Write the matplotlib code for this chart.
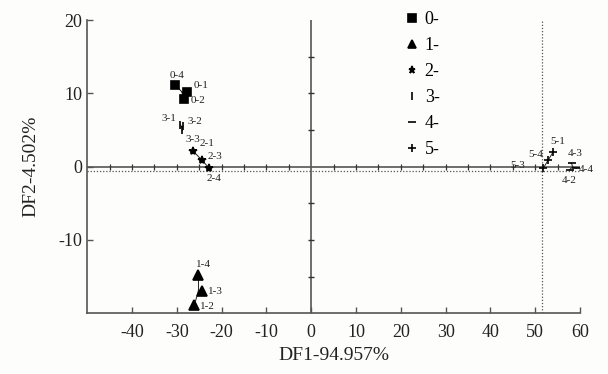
import matplotlib
matplotlib.use("Agg")
import matplotlib.pyplot as plt
import numpy as np

plt.rcParams['font.family'] = ['Liberation Serif', 'DejaVu Serif']

groups = ['0', '1', '2', '3', '4', '5']
markers = ['s', '^', '*', '|', '_', '+']
msizes = [6, 7, 6, 6, 6, 6]

# (label suffix, DF1, DF2) per group
g0_labels = ['0-4', '0-1', '0-2']
g0_x = [-30.4, -27.8, -28.5]
g0_y = [11.2, 10.2, 9.2]

g1_labels = ['1-4', '1-3', '1-2']
g1_x = [-25.2, -24.3, -26.1]
g1_y = [-14.8, -17.0, -18.9]

g2_labels = ['2-1', '2-3', '2-4']
g2_x = [-26.5, -24.3, -22.8]
g2_y = [2.2, 0.9, -0.2]

g3_labels = ['3-1', '3-2', '3-3']
g3_x = [-29.2, -28.6, -28.9]
g3_y = [5.7, 5.5, 5.0]

g4_labels = ['4-3', '4-4', '4-2']
g4_x = [58.1, 59.2, 57.7]
g4_y = [0.5, -0.2, -0.4]

g5_labels = ['5-1', '5-4', '5-3']
g5_x = [54.0, 52.9, 51.8]
g5_y = [2.0, 0.9, -0.2]

xticks = [-40, -30, -20, -10, 0, 10, 20, 30, 40, 50, 60]
yticks = [-10, 0, 10, 20]
ref_x = 51.4
ref_y = -0.55

all_x = [g0_x, g1_x, g2_x, g3_x, g4_x, g5_x]
all_y = [g0_y, g1_y, g2_y, g3_y, g4_y, g5_y]
all_l = [g0_labels, g1_labels, g2_labels, g3_labels, g4_labels, g5_labels]

# label offsets in points
offsets = {
    '0-4': (-4, 5), '0-1': (5, 3), '0-2': (5, -3),
    '3-1': (-14, 3), '3-2': (3, 2), '3-3': (3, -9),
    '2-1': (5, 3), '2-3': (4, 1), '2-4': (-2, -9),
    '1-4': (-2, 6), '1-3': (4, -2), '1-2': (4, -3),
    '5-1': (-2, 6), '5-4': (-14, 2), '5-3': (-24, 0),
    '4-3': (-3, 5), '4-4': (2, -3), '4-2': (-6, -10),
}

fig = plt.figure(figsize=(6.08, 3.74), dpi=100)
fig.patch.set_facecolor('#fdfdfb')
ax = fig.add_axes([0.1436, 0.1623, 0.8104, 0.7842])
ax.set_facecolor('#fdfdfb')
ax.set_xlim(-50, 60)
ax.set_ylim(-20, 20)

# center lines
ax.axhline(0, color='#555555', lw=1.2, zorder=1)
ax.plot([0, 0], [-20, 20], color='#555555', lw=1.2, zorder=1)
# ticks on center lines
cx = [v for v in np.arange(-45, 60, 5) if v != 0]
ax.plot(cx, [0] * len(cx), ls='none', marker='|', ms=5, mew=0.9, color='#333333', zorder=1)
cy = [v for v in np.arange(-15, 20, 5) if v != 0]
ax.plot([0] * len(cy), cy, ls='none', marker='_', ms=5, mew=1.0, color='#333333', zorder=1)

# dotted reference lines
ax.axvline(ref_x, color='#555555', lw=0.9, ls=(0, (1, 1.5)), zorder=1)
ax.axhline(ref_y, color='#555555', lw=0.9, ls=(0, (1, 1.5)), zorder=1)

for g, m, s, xs, ys, ls in zip(groups, markers, msizes, all_x, all_y, all_l):
    cxm, cym = np.mean(xs), np.mean(ys)
    for x, y in zip(xs, ys):
        ax.plot([x, cxm], [y, cym], color='#222222', lw=0.7, zorder=2)
    ax.plot(xs, ys, ls='none', marker=m, ms=s, mew=1.2, color='black', zorder=3,
            label=g + '-')
    for x, y, l in zip(xs, ys, ls):
        ax.annotate(l, (x, y), xytext=offsets.get(l, (3, 3)), textcoords='offset points',
                    fontsize=8, color='#222222', zorder=4)

for sp in ['top', 'right']:
    ax.spines[sp].set_visible(False)
for sp in ['left', 'bottom']:
    ax.spines[sp].set_color('#555555')
    ax.spines[sp].set_linewidth(1.2)

ax.set_xticks(xticks)
ax.set_xticklabels([str(v).replace('\u2212', '-') for v in xticks])
ax.set_yticks(yticks)
ax.set_yticklabels([str(v) for v in yticks])
ax.tick_params(direction='in', length=4, width=1, colors='#555555', labelcolor='#222222',
               labelsize=13)
ax.tick_params(axis='x', pad=8)

ax.set_xlabel('DF1-94.957%', fontsize=14, color='#222222', labelpad=4)
ax.set_ylabel('DF2-4.502%', fontsize=14, color='#222222', labelpad=14)

leg = ax.legend(loc='upper left', bbox_to_anchor=(0.615, 1.085), frameon=False,
                fontsize=13, handlelength=0.6, handletextpad=0.4, labelspacing=0.5,
                markerscale=0.85)

fig.savefig('out.png', dpi=100, facecolor=fig.get_facecolor())
